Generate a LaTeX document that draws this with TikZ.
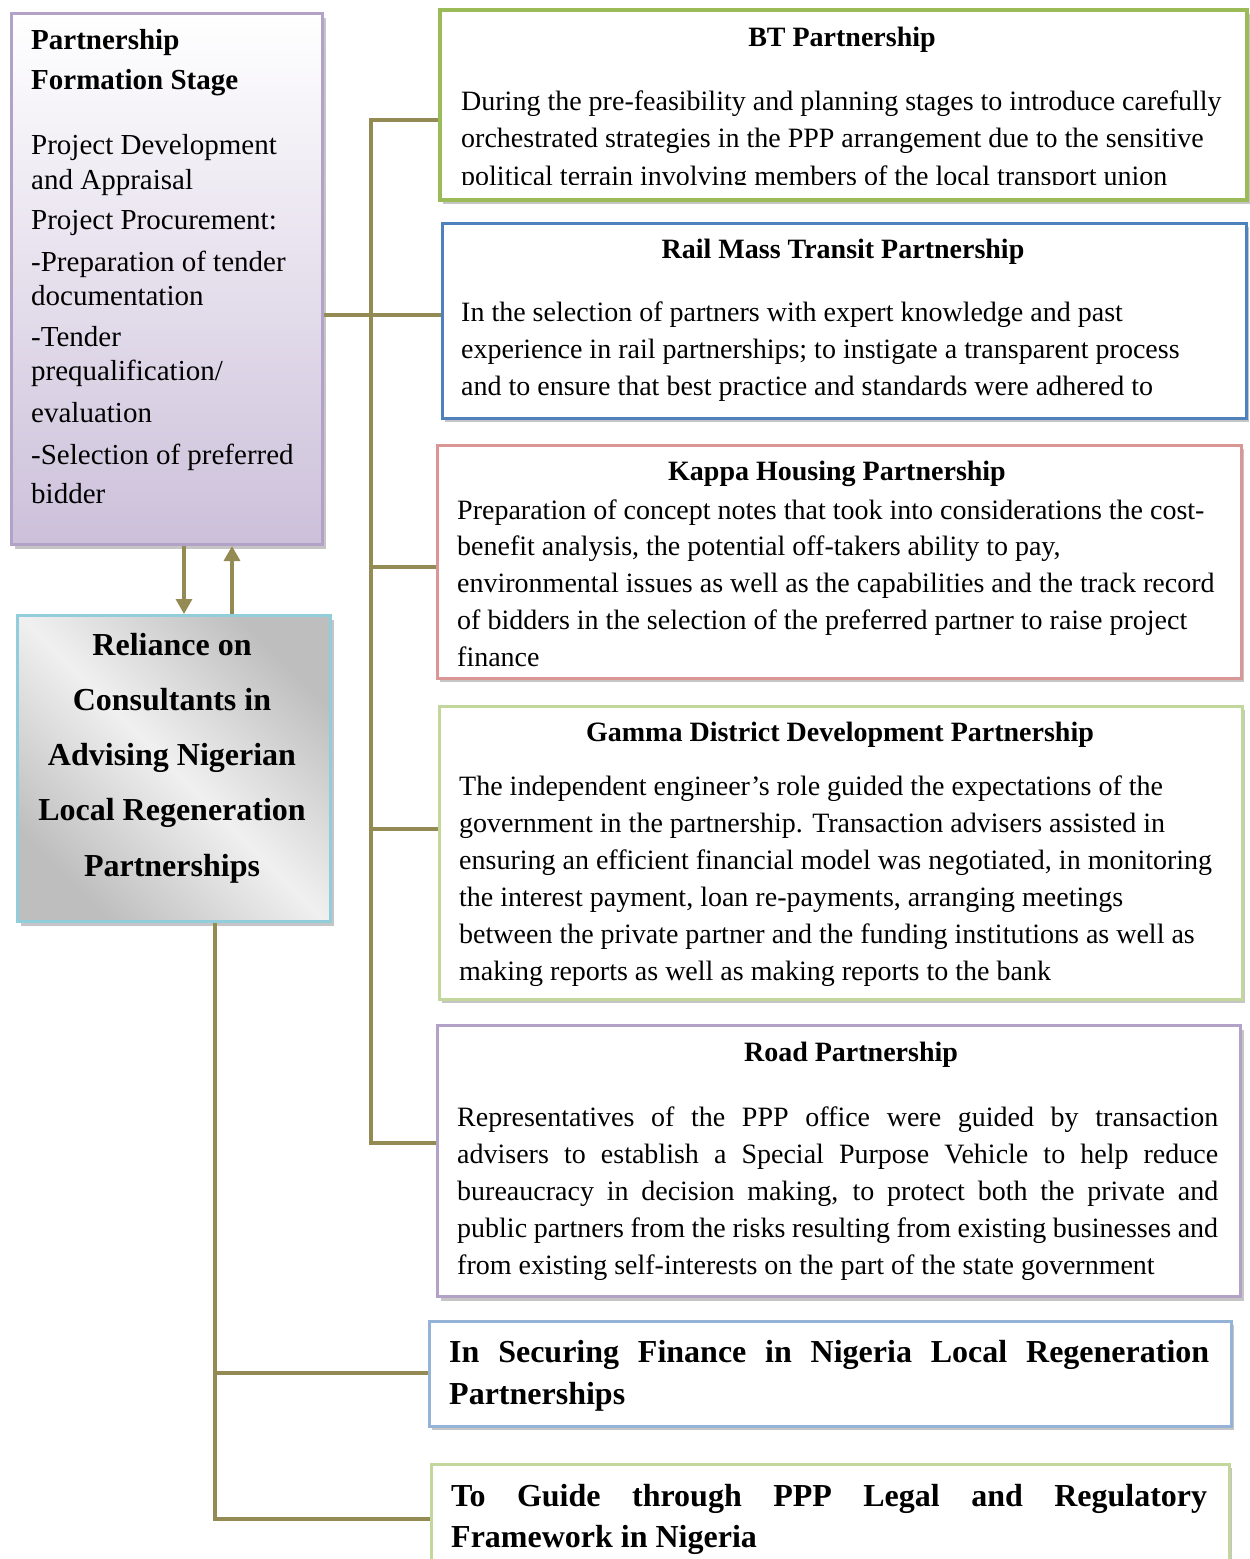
\documentclass[tikz,border=0pt]{standalone}
\usepackage{fontspec}
\setmainfont{Liberation Serif}
\usetikzlibrary{shadows,arrows.meta}
\definecolor{connol}{HTML}{948A54}
\definecolor{pfborder}{HTML}{B3A2C7}
\definecolor{pfbot}{HTML}{CCC0DA}
\definecolor{relborder}{HTML}{92CDDC}
\definecolor{silverD}{HTML}{BEBEBE}
\definecolor{silverL}{HTML}{F0F0F0}
\definecolor{btgreen}{HTML}{9BBB59}
\definecolor{railblue}{HTML}{4F81BD}
\definecolor{kapparose}{HTML}{D99694}
\definecolor{gammagreen}{HTML}{C3D69B}
\definecolor{roadpurple}{HTML}{B2A2C7}
\definecolor{finblue}{HTML}{95B3D7}
\begin{document}
\begin{tikzpicture}[x=1pt,y=-1pt,
  box/.style={draw, fill=white, rectangle, inner sep=0pt, anchor=north west,
    drop shadow={shadow xshift=3pt, shadow yshift=-4pt, fill=black!45, opacity=0.5}},
  conn/.style={draw=connol, line width=3.3pt},
  tarrow/.style={-{Triangle[width=16pt,length=15pt]}},
  ttl/.style={font=\fontsize{28}{32}\selectfont\bfseries, anchor=base, inner sep=0pt},
  bodyl/.style={font=\fontsize{28}{37}\selectfont, anchor=base west, inner sep=0pt},
  pftext/.style={font=\fontsize{29}{35}\selectfont, anchor=base west, inner sep=0pt},
  pftitle/.style={font=\fontsize{29}{35}\selectfont\bfseries, anchor=base west, inner sep=0pt},
  reltext/.style={font=\fontsize{32}{40}\selectfont\bfseries, anchor=base, inner sep=0pt},
  bigb/.style={font=\fontsize{32}{40}\selectfont\bfseries, anchor=base west, inner sep=0pt}
]
\useasboundingbox (0,0) rectangle (1250,1559);

% ---------- boxes ----------
\node[box, draw=pfborder, line width=3pt, top color=white, bottom color=pfbot,
  minimum width=311pt, minimum height=531pt] (pf) at (10,12) {};
\node[box, draw=relborder, line width=3pt, shading=axis, left color=silverD, right color=silverD,
  middle color=silverL, shading angle=135,
  minimum width=313pt, minimum height=306pt] (rel) at (16,614) {};
\node[box, draw=btgreen, line width=4pt, minimum width=807pt, minimum height=190pt] (bt) at (438,8) {};
\node[box, draw=railblue, line width=2.5pt, minimum width=804pt, minimum height=195pt] (rail) at (441,222) {};
\node[box, draw=kapparose, line width=2.5pt, minimum width=804pt, minimum height=233pt] (kappa) at (436,444) {};
\node[box, draw=gammagreen, line width=2.5pt, minimum width=803pt, minimum height=293pt] (gamma) at (438,705) {};
\node[box, draw=roadpurple, line width=3pt, minimum width=803pt, minimum height=271pt] (road) at (436,1024) {};
\node[box, draw=finblue, line width=2.5pt, minimum width=802pt, minimum height=105pt] (fin) at (428,1320) {};
\node[box, draw=gammagreen, line width=2.5pt, minimum width=798pt, minimum height=130pt] (guide) at (430,1463) {};

% ---------- connectors ----------
\coordinate (j1) at (371,120);
\coordinate (j2) at (371,315);
\coordinate (j3) at (371,567);
\coordinate (j4) at (371,829);
\coordinate (j5) at (371,1143);
\draw[conn] (j1 -| bt.west) -- (j1) -- (j5) -- (j5 -| road.west);
\draw[conn] (j2 -| pf.east) -- (j2 -| rail.west);
\draw[conn] (j3) -- (j3 -| kappa.west);
\draw[conn] (j4) -- (j4 -| gamma.west);

\coordinate (a1) at (184,0);
\coordinate (a2) at (232,0);
\draw[conn, tarrow] (pf.south -| a1) -- (rel.north -| a1);
\draw[conn, tarrow] (rel.north -| a2) -- (pf.south -| a2);

\coordinate (b1) at (215,1373);
\coordinate (b2) at (215,1519);
\draw[conn] (rel.south -| b2) -- (b2) -- (b2 -| guide.west);
\draw[conn] (b1) -- (b1 -| fin.west);

% ---------- Partnership Formation Stage ----------
\node[pftitle] (pf-t1) at (31,49) {Partnership};
\node[pftitle] (pf-t2) at (31,89) {Formation Stage};
\node[pftext] (pf-l1) at (31,154) {Project Development};
\node[pftext] (pf-l2) at (31,189) {and Appraisal};
\node[pftext] (pf-l3) at (31,229) {Project Procurement:};
\node[pftext] (pf-l4) at (31,271) {-Preparation of tender};
\node[pftext] (pf-l5) at (31,305) {documentation};
\node[pftext] (pf-l6) at (31,346) {-Tender};
\node[pftext] (pf-l7) at (31,380) {prequalification/};
\node[pftext] (pf-l8) at (31,422) {evaluation};
\node[pftext] (pf-l9) at (31,464) {-Selection of preferred};
\node[pftext] (pf-l10) at (31,503) {bidder};

% ---------- Reliance ----------
\foreach \t [count=\i] in {Reliance on, Consultants in, Advising Nigerian, Local Regeneration, Partnerships}
  \node[reltext] (rel-l\i) at (172,{655+55.25*(\i-1)}) {\t};

% ---------- BT ----------
\node[ttl] (bt-t) at (842,46) {BT Partnership};
\begin{scope}
\clip (438,8) rectangle (1245,184);
\foreach \t [count=\i] in {During the pre-feasibility and planning stages to introduce carefully,
  orchestrated strategies in the PPP arrangement due to the sensitive,
  political terrain involving members of the local transport union}
  \node[bodyl] (bt-l\i) at (461,{110+37.5*(\i-1)}) {\t};
\end{scope}

% ---------- Rail ----------
\node[ttl] (rail-t) at (843,258) {Rail Mass Transit Partnership};
\foreach \t [count=\i] in {In the selection of partners with expert knowledge and past,
  experience in rail partnerships; to instigate a transparent process,
  and to ensure that best practice and standards were adhered to}
  \node[bodyl] (rail-l\i) at (461,{321+37*(\i-1)}) {\t};

% ---------- Kappa ----------
\node[ttl] (kappa-t) at (837,480) {Kappa Housing Partnership};
\foreach \t [count=\i] in {Preparation of concept notes that took into considerations the cost-,
  {benefit analysis, the potential off-takers ability to pay,},
  environmental issues as well as the capabilities and the track record,
  of bidders in the selection of the preferred partner to raise project,
  finance}
  \node[bodyl] (kappa-l\i) at (457,{519+36.8*(\i-1)}) {\t};

% ---------- Gamma ----------
\node[ttl] (gamma-t) at (840,741) {Gamma District Development Partnership};
\foreach \t [count=\i] in {The independent engineer’s role guided the expectations of the,
  government in the partnership. Transaction advisers assisted in,
  {ensuring an efficient financial model was negotiated, in monitoring},
  {the interest payment, loan re-payments, arranging meetings},
  between the private partner and the funding institutions as well as,
  making reports as well as making reports to the bank}
  \node[bodyl] (gamma-l\i) at (459,{795+37*(\i-1)}) {\t};

% ---------- Road ----------
\node[ttl] (road-t) at (851,1061) {Road Partnership};
\node[bodyl] (road-l1) at (457,1126) {\makebox[761pt][s]{Representatives of the PPP office were guided by transaction}};
\node[bodyl] (road-l2) at (457,1163) {\makebox[761pt][s]{advisers to establish a Special Purpose Vehicle to help reduce}};
\node[bodyl] (road-l3) at (457,1200) {\makebox[761pt][s]{bureaucracy in decision making, to protect both the private and}};
\node[bodyl] (road-l4) at (457,1237) {\makebox[761pt][s]{public partners from the risks resulting from existing businesses and}};
\node[bodyl] (road-l5) at (457,1274) {from existing self-interests on the part of the state government};

% ---------- Finance ----------
\node[bigb] (fin-l1) at (449,1362) {\makebox[760pt][s]{In Securing Finance in Nigeria Local Regeneration}};
\node[bigb] (fin-l2) at (449,1404) {Partnerships};

% ---------- Guide ----------
\node[bigb] (guide-l1) at (451,1506) {\makebox[756pt][s]{To Guide through PPP Legal and Regulatory}};
\node[bigb] (guide-l2) at (451,1547) {Framework in Nigeria};
\end{tikzpicture}
\end{document}
